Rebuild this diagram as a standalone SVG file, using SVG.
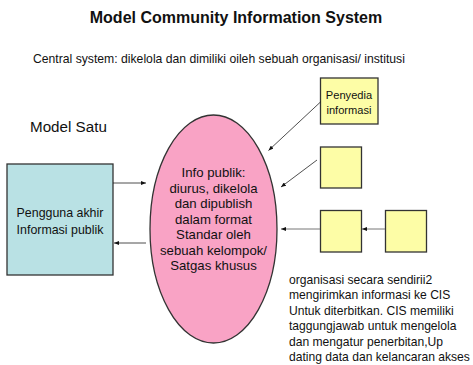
<svg xmlns="http://www.w3.org/2000/svg" width="473" height="365" viewBox="0 0 473 365">
  <style>
    text { font-family: "Liberation Sans", Arial, sans-serif; fill: #111; }
    .title { font-size: 16px; font-weight: bold; text-anchor: middle; }
    .sub { font-size: 12.2px; }
    .mid { text-anchor: middle; }
    .box { stroke: #333; stroke-width: 1.3; }
    .yellow { fill: #FDFDA6; }
    .conn { fill: none; stroke: #222; stroke-width: 0.8; }
    .conn.grey { stroke: #777; stroke-width: 1; }
  </style>
  <defs>
    <marker id="head" viewBox="0 0 5 4" refX="5" refY="2" markerWidth="5" markerHeight="4" markerUnits="userSpaceOnUse" orient="auto">
      <path d="M0,0 L5,2 L0,4 z" fill="#111"/>
    </marker>
  </defs>

  <rect width="473" height="365" fill="#ffffff"/>

  <text class="title" x="236" y="22.5">Model Community Information System</text>
  <text class="sub" x="33" y="63">Central system: dikelola dan dimiliki oileh sebuah organisasi/ institusi</text>
  <text x="30" y="132" style="font-size:15.2px">Model Satu</text>

  <!-- end users -->
  <g id="pengguna">
    <rect class="box" x="7" y="164" width="106" height="111" fill="#B9E1E4"/>
    <text class="mid" x="60" y="217" style="font-size:12.4px">Pengguna akhir</text>
    <text class="mid" x="60" y="234" style="font-size:12.4px">Informasi publik</text>
  </g>

  <!-- central CIS -->
  <g id="cis">
    <ellipse class="box" cx="213.5" cy="229" rx="63.5" ry="114" fill="#F9A3C5"/>
    <g class="mid" style="font-size:13.2px">
      <text x="213.5" y="177">Info publik:</text>
      <text x="213.5" y="192.5">diurus, dikelola</text>
      <text x="213.5" y="208">dan dipublish</text>
      <text x="213.5" y="223.5">dalam format</text>
      <text x="213.5" y="239">Standar oleh</text>
      <text x="213.5" y="254.5">sebuah kelompok/</text>
      <text x="213.5" y="270">Satgas khusus</text>
    </g>
  </g>

  <!-- information providers -->
  <g id="penyedia">
    <rect class="box yellow" x="320.5" y="78" width="57.5" height="46"/>
    <text class="mid" x="349" y="98.5" style="font-size:11.1px">Penyedia</text>
    <text class="mid" x="349" y="113.5" style="font-size:11.1px">informasi</text>
  </g>
  <g id="org2">
    <rect class="box yellow" x="320.5" y="147" width="41" height="41"/>
  </g>
  <g id="org3">
    <rect class="box yellow" x="320.5" y="210.5" width="41" height="41.5"/>
  </g>
  <g id="org4">
    <rect class="box yellow" x="385.5" y="210.5" width="41" height="41.5"/>
  </g>

  <g id="connectors">
    <line class="conn" x1="113" y1="183" x2="146" y2="183" marker-end="url(#head)"/>
    <line class="conn" x1="146" y1="243" x2="114" y2="243" marker-end="url(#head)"/>
    <line class="conn" x1="321" y1="101.5" x2="268.5" y2="150.5" marker-end="url(#head)"/>
    <line class="conn" x1="317" y1="160" x2="281" y2="187" marker-end="url(#head)"/>
    <line class="conn grey" x1="320" y1="229" x2="281" y2="229" marker-end="url(#head)"/>
    <line class="conn grey" x1="385" y1="229" x2="362" y2="229" marker-end="url(#head)"/>
  </g>

  <g class="sub" style="font-size:12.1px">
    <text x="289" y="283.5">organisasi secara sendirii2</text>
    <text x="289" y="299">mengirimkan informasi ke CIS</text>
    <text x="289" y="314.5">Untuk diterbitkan. CIS memiliki</text>
    <text x="289" y="330">taggungjawab untuk mengelola</text>
    <text x="289" y="345.5">dan mengatur penerbitan,Up</text>
    <text x="289" y="361">dating data dan kelancaran akses</text>
  </g>
</svg>
